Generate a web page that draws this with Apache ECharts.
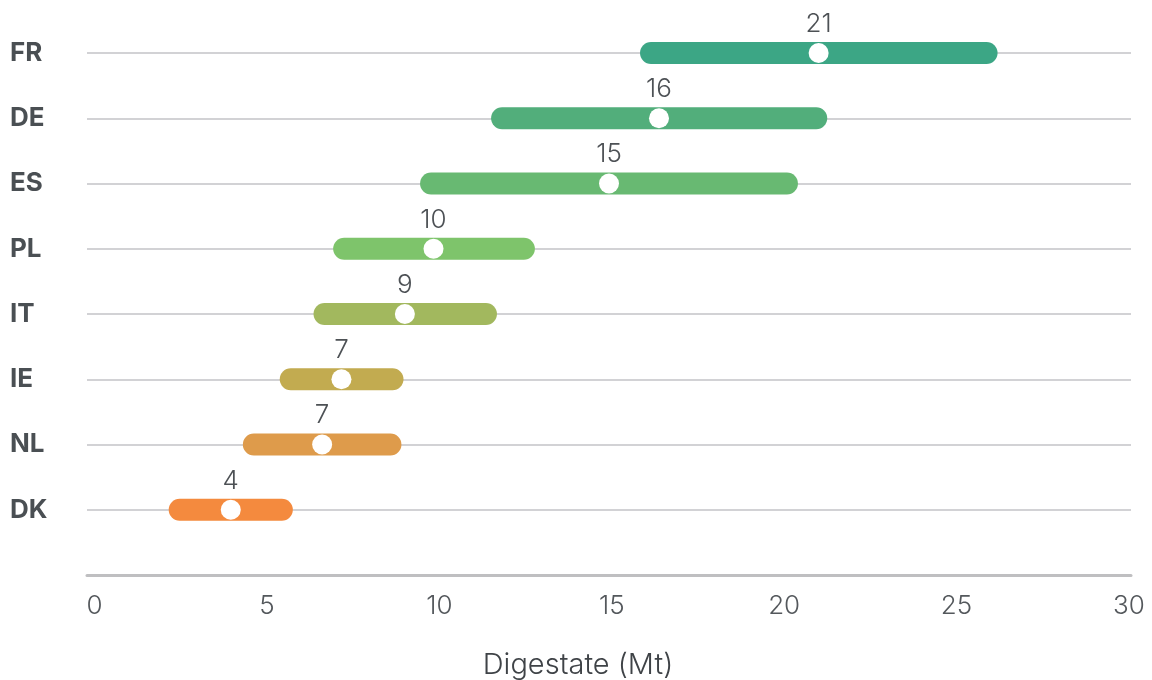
<!DOCTYPE html>
<html>
<head>
<meta charset="utf-8">
<script src="https://cdn.jsdelivr.net/npm/echarts@6/dist/echarts.min.js"></script>
<style>
html,body{margin:0;padding:0;background:#fff;}
#chart{width:1152px;height:680px;}
</style>
</head>
<body>
<div id="chart"></div>
<script>
// Categories listed bottom to top ('' is an empty slot above the x axis)
const categories = ['', 'DK', 'NL', 'IE', 'IT', 'PL', 'ES', 'DE', 'FR'];
const countries = ['DK', 'NL', 'IE', 'IT', 'PL', 'ES', 'DE', 'FR'];
const rangeLow  = [2.15, 4.3, 5.37, 6.35, 6.92, 9.44, 11.5, 15.82];
const rangeHigh = [5.75, 8.9, 8.96, 11.67, 12.77, 20.4, 21.25, 26.19];
const central   = [3.95, 6.6, 7.16, 9.0, 9.83, 14.92, 16.37, 21.0];
const valueLabels = ['4', '7', '7', '9', '10', '15', '16', '21'];
const barColors = ['#f48a3e', '#de9b4b', '#c2ab50', '#a2b85e', '#7ec46b', '#68b972', '#52ae7b', '#3ca685'];
const xTicks = [0, 5, 10, 15, 20, 25, 30];

const chart = echarts.init(document.getElementById('chart'), null, {renderer: 'canvas'});

const barData = countries.map((c, i) => ({value: [rangeLow[i], rangeHigh[i], c], itemStyle: {color: barColors[i]}}));
const dotData = countries.map((c, i) => ({value: [central[i], c], label: {formatter: valueLabels[i]}}));

const option = {
  animation: false,
  backgroundColor: '#ffffff',
  grid: {left: 87, right: 21, top: 53, bottom: 105, outerBoundsMode: 'none'},
  xAxis: {
    type: 'value',
    min: -0.22,
    max: 30.06,
    name: 'Digestate (Mt)',
    nameLocation: 'middle',
    nameGap: 76,
    nameTextStyle: {fontFamily: 'Inter', fontWeight: 300, fontSize: 29, color: '#3f4347', padding: [0, 62, 0, 0]},
    axisLine: {show: true, lineStyle: {color: '#bfbfc1', width: 3}},
    axisTick: {show: false},
    splitLine: {show: false},
    axisLabel: {
      customValues: xTicks,
      fontFamily: 'Inter', fontWeight: 300, fontSize: 26, color: '#54585c', margin: 18
    }
  },
  yAxis: {
    type: 'category',
    data: categories,
    boundaryGap: false,
    axisLine: {show: false},
    axisTick: {show: false},
    splitLine: {show: true, lineStyle: {color: '#c3c3c7', width: 1.5}},
    axisLabel: {
      align: 'left', margin: 77,
      fontFamily: 'Inter', fontWeight: 'bold', fontSize: 26, color: '#4a4f53'
    }
  },
  series: [
    {
      type: 'custom',
      data: barData,
      encode: {x: [0, 1], y: 2},
      renderItem: function (params, api) {
        const p0 = api.coord([api.value(0), api.value(2)]);
        const p1 = api.coord([api.value(1), api.value(2)]);
        const h = 22;
        return {
          type: 'rect',
          shape: {x: p0[0], y: p0[1] - h / 2, width: p1[0] - p0[0], height: h, r: h / 2},
          style: {fill: api.visual('color')}
        };
      },
      z: 2
    },
    {
      type: 'scatter',
      data: dotData,
      symbol: 'circle',
      symbolSize: 20,
      itemStyle: {color: '#ffffff', opacity: 1},
      label: {
        show: true, position: 'top', distance: 6,
        fontFamily: 'Inter', fontWeight: 300, fontSize: 26, color: '#4d5155'
      },
      z: 3
    }
  ]
};
chart.setOption(option);
</script>
</body>
</html>
